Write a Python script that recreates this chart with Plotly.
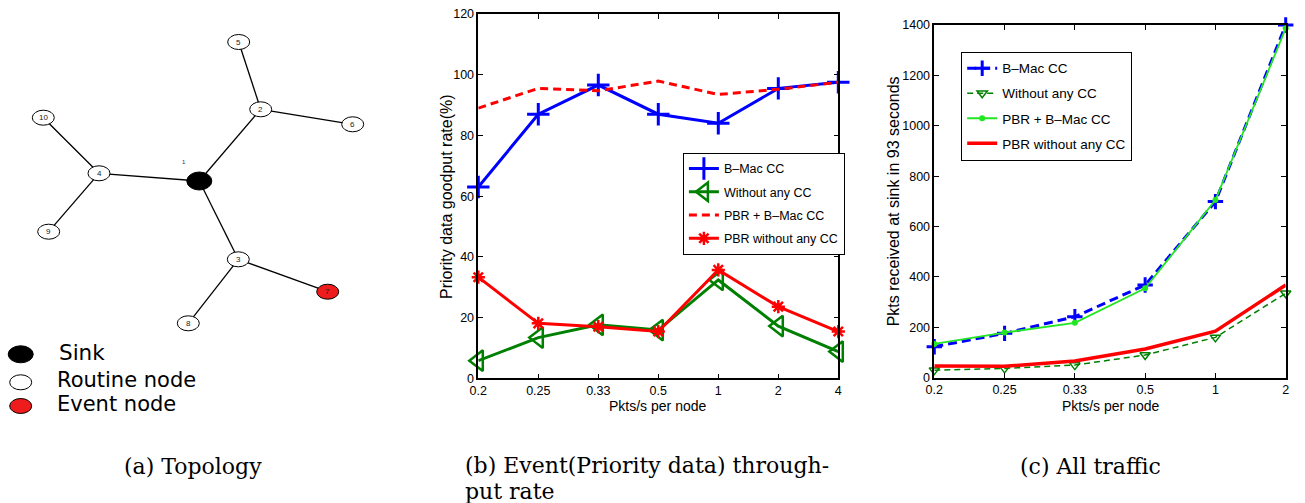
import plotly.graph_objects as go

W, H = 1305, 503
def px(x): return x / W
def py(y): return 1 - y / H

# ---------------- data: panel (b) ----------------
rates_b = ["0.2", "0.25", "0.33", "0.5", "1", "2", "4"]
bmac_cc_b = [63, 87, 96.6, 87, 84, 95.5, 97.5]
without_cc_b = [5.8, 13.4, 17.6, 15.9, 32.4, 17.2, 8.8]
pbr_bmac_b = [89, 95.5, 94.7, 97.9, 93.5, 95.2, 97.5]
pbr_without_b = [33.3, 18.1, 17.0, 15.4, 35.7, 23.6, 15.4]

# ---------------- data: panel (c) ----------------
rates_c = ["0.2", "0.25", "0.33", "0.5", "1", "2"]
bmac_cc_c = [123, 176, 242, 368, 699, 1400]
without_cc_c = [30, 37, 50, 90, 160, 335]
pbr_bmac_c = [134, 179, 218, 355, 705, 1387]
pbr_without_c = [46, 45, 66, 114, 185, 368]

# ---------------- data: panel (a) topology ----------------
node_ids = ["1", "2", "3", "4", "5", "6", "7", "8", "9", "10"]
node_x = [199.3, 260.7, 238.3, 99.0, 238.7, 352.7, 327.7, 188.3, 48.7, 43.3]
node_y = [181.0, 109.3, 259.3, 173.3, 42.0, 124.3, 291.7, 323.3, 231.7, 117.7]
node_kind = ["sink", "routine", "routine", "routine", "routine", "routine",
             "event", "routine", "routine", "routine"]
edges = [("1", "2"), ("1", "3"), ("1", "4"), ("2", "5"), ("2", "6"),
         ("3", "7"), ("3", "8"), ("4", "9"), ("4", "10")]
legend_kinds = ["sink", "routine", "event"]
legend_labels = ["Sink", "Routine node", "Event node"]

captions = ["(a) Topology", "(b) Event(Priority data) through-", "put rate", "(c) All traffic"]

SANS = "Liberation Sans, Arial, sans-serif"

fig = go.Figure()

# panel (b) traces
fig.add_trace(go.Scatter(x=rates_b, y=bmac_cc_b, name="B\u2013Mac CC", mode="lines+markers",
                         line=dict(color="#0000ff", width=3), cliponaxis=False,
                         marker=dict(symbol="cross-thin", size=16, line=dict(color="#0000ff", width=3)),
                         xaxis="x", yaxis="y", legend="legend", legendgroup="b1"))
fig.add_trace(go.Scatter(x=rates_b, y=without_cc_b, name="Without any CC", mode="lines+markers",
                         line=dict(color="#008000", width=3), cliponaxis=False,
                         marker=dict(symbol="triangle-left-open", size=18, color="#008000",
                                     line=dict(color="#008000", width=2.5)),
                         xaxis="x", yaxis="y", legend="legend", legendgroup="b2"))
fig.add_trace(go.Scatter(x=rates_b, y=pbr_bmac_b, name="PBR + B\u2013Mac CC", mode="lines",
                         line=dict(color="#ff0000", width=3, dash="8px,5px"), cliponaxis=False,
                         xaxis="x", yaxis="y", legend="legend", legendgroup="b3"))
fig.add_trace(go.Scatter(x=rates_b, y=pbr_without_b, name="PBR without any CC", mode="lines+markers",
                         line=dict(color="#ff0000", width=3), cliponaxis=False,
                         marker=dict(symbol="asterisk", size=11, color="#ff0000",
                                     line=dict(color="#ff0000", width=2.5)),
                         xaxis="x", yaxis="y", legend="legend", legendgroup="b4"))

# panel (c) traces
fig.add_trace(go.Scatter(x=rates_c, y=bmac_cc_c, name="B\u2013Mac CC", mode="lines+markers",
                         line=dict(color="#0000ff", width=3, dash="9px,5px"), cliponaxis=False,
                         marker=dict(symbol="cross-thin", size=11, line=dict(color="#0000ff", width=3)),
                         xaxis="x2", yaxis="y2", legend="legend2", legendgroup="c1"))
fig.add_trace(go.Scatter(x=rates_c, y=without_cc_c, name="Without any CC", mode="lines+markers",
                         line=dict(color="#008000", width=1.5, dash="6px,4px"), cliponaxis=False,
                         marker=dict(symbol="triangle-down-open", size=9, color="#008000",
                                     line=dict(color="#008000", width=1.5)),
                         xaxis="x2", yaxis="y2", legend="legend2", legendgroup="c2"))
fig.add_trace(go.Scatter(x=rates_c, y=pbr_bmac_c, name="PBR + B\u2013Mac CC", mode="lines+markers",
                         line=dict(color="#22e622", width=1.8), cliponaxis=False,
                         marker=dict(symbol="circle", size=6, color="#22e622"),
                         xaxis="x2", yaxis="y2", legend="legend2", legendgroup="c3"))
fig.add_trace(go.Scatter(x=rates_c, y=pbr_without_c, name="PBR without any CC", mode="lines",
                         line=dict(color="#ff0000", width=3.5), cliponaxis=False,
                         xaxis="x2", yaxis="y2", legend="legend2", legendgroup="c4"))

# topology dummy trace to establish axes x3/y3
fig.add_trace(go.Scatter(x=node_x, y=node_y, mode="markers", marker=dict(size=1, opacity=0),
                         hoverinfo="skip", showlegend=False, xaxis="x3", yaxis="y3"))

shapes = []
annotations = []
pos = {n: (x, y) for n, x, y in zip(node_ids, node_x, node_y)}
for a, b in edges:
    xa, ya = pos[a]
    xb, yb = pos[b]
    shapes.append(dict(type="line", xref="x3", yref="y3", x0=xa, y0=ya, x1=xb, y1=yb,
                       line=dict(color="black", width=1.3)))
fill = {"sink": "black", "routine": "white", "event": "#ee1c1c"}
size = {"sink": (12.5, 9), "routine": (11, 7.5), "event": (11, 7.5)}
for n, x, y, k in zip(node_ids, node_x, node_y, node_kind):
    rx, ry = size[k]
    shapes.append(dict(type="circle", xref="x3", yref="y3", x0=x - rx, x1=x + rx,
                       y0=y - ry, y1=y + ry, fillcolor=fill[k], line=dict(color="black", width=1)))
    if k == "sink":
        annotations.append(dict(x=x - 15.6, y=y - 19.5, xref="x3", yref="y3", text=n, showarrow=False,
                                xanchor="center", yanchor="middle",
                                font=dict(family=SANS, size=6, color="#333")))
    else:
        annotations.append(dict(x=x, y=y, xref="x3", yref="y3", text=n, showarrow=False,
                                xanchor="center", yanchor="middle",
                                font=dict(family=SANS, size=8, color="#222")))

leg_y = [354.3, 382.3, 406.0]
leg_rx = {"sink": 12.5, "routine": 11, "event": 11}
leg_ry = {"sink": 8.5, "routine": 7.5, "event": 7.5}
for k, lab, y in zip(legend_kinds, legend_labels, leg_y):
    shapes.append(dict(type="circle", xref="x3", yref="y3", x0=20.7 - leg_rx[k], x1=20.7 + leg_rx[k],
                       y0=y - leg_ry[k], y1=y + leg_ry[k], fillcolor=fill[k],
                       line=dict(color="black", width=1)))
    annotations.append(dict(x=55 if k != "sink" else 57, y=y - 2, xref="x3", yref="y3", text=lab,
                            showarrow=False, xanchor="left", yanchor="middle",
                            font=dict(family="DejaVu Sans", size=21 if k != "sink" else 21.5,
                                      color="black")))

# axis titles
annotations += [
    dict(x=px(658), y=py(406), xref="paper", yref="paper", text="Pkts/s per node", showarrow=False,
         xanchor="center", yanchor="middle", font=dict(family=SANS, size=14, color="black")),
    dict(x=px(446), y=py(197), xref="paper", yref="paper", text="Priority data goodput rate(%)",
         showarrow=False, textangle=-90, xanchor="center", yanchor="middle",
         font=dict(family=SANS, size=16, color="black")),
    dict(x=px(1110), y=py(406), xref="paper", yref="paper", text="Pkts/s per node", showarrow=False,
         xanchor="center", yanchor="middle", font=dict(family=SANS, size=14, color="black")),
    dict(x=px(893.3), y=py(201), xref="paper", yref="paper", text="Pkts received at sink in 93 seconds",
         showarrow=False, textangle=-90, xanchor="center", yanchor="middle",
         font=dict(family=SANS, size=16, color="black")),
]
# captions
SERIF = "DejaVu Serif, Liberation Serif, serif"
cap_pos = [(121.7, 466), (463, 465), (463, 491), (1018, 466)]
for t, (x, y) in zip(captions, cap_pos):
    annotations.append(dict(x=px(x), y=py(y), xref="paper", yref="paper", text=t, showarrow=False,
                            xanchor="left", yanchor="middle",
                            font=dict(family=SERIF, size=22, color="black")))

axis_common = dict(showline=True, linecolor="black", linewidth=1.5, mirror="ticks", ticks="inside",
                   ticklen=5, tickcolor="black", showgrid=False, zeroline=False,
                   tickfont=dict(family=SANS, size=12.5, color="black"), automargin=False)

fig.update_layout(
    width=W, height=H, margin=dict(l=0, r=0, t=0, b=0),
    paper_bgcolor="white", plot_bgcolor="white",
    xaxis=dict(domain=[px(478.3), px(838.3)], anchor="y", type="category", range=[0, 6],
               categoryorder="array", categoryarray=rates_b, **axis_common),
    yaxis=dict(domain=[py(378.3), py(14)], anchor="x", range=[0, 120], tickvals=list(range(0, 121, 20)),
               **axis_common),
    xaxis2=dict(domain=[px(934.3), px(1285.7)], anchor="y2", type="category", range=[0, 5],
                categoryorder="array", categoryarray=rates_c, **axis_common),
    yaxis2=dict(domain=[py(377.7), py(25)], anchor="x2", range=[0, 1400],
                tickvals=list(range(0, 1401, 200)), **axis_common),
    xaxis3=dict(domain=[0, px(430)], anchor="y3", range=[0, 430], visible=False, fixedrange=True),
    yaxis3=dict(domain=[0, 1], anchor="x3", range=[503, 0], visible=False, fixedrange=True),
    legend=dict(x=px(682.7), y=py(152.7), xanchor="left", yanchor="top", bgcolor="white",
                bordercolor="black", borderwidth=1.2, tracegroupgap=4,
                font=dict(family=SANS, size=12.5, color="black")),
    legend2=dict(x=px(961), y=py(51.7), xanchor="left", yanchor="top", bgcolor="white",
                 bordercolor="black", borderwidth=1.2, tracegroupgap=4.5,
                 font=dict(family=SANS, size=13.5, color="black")),
    shapes=shapes, annotations=annotations, showlegend=True,
)

fig.write_html("out.html")
